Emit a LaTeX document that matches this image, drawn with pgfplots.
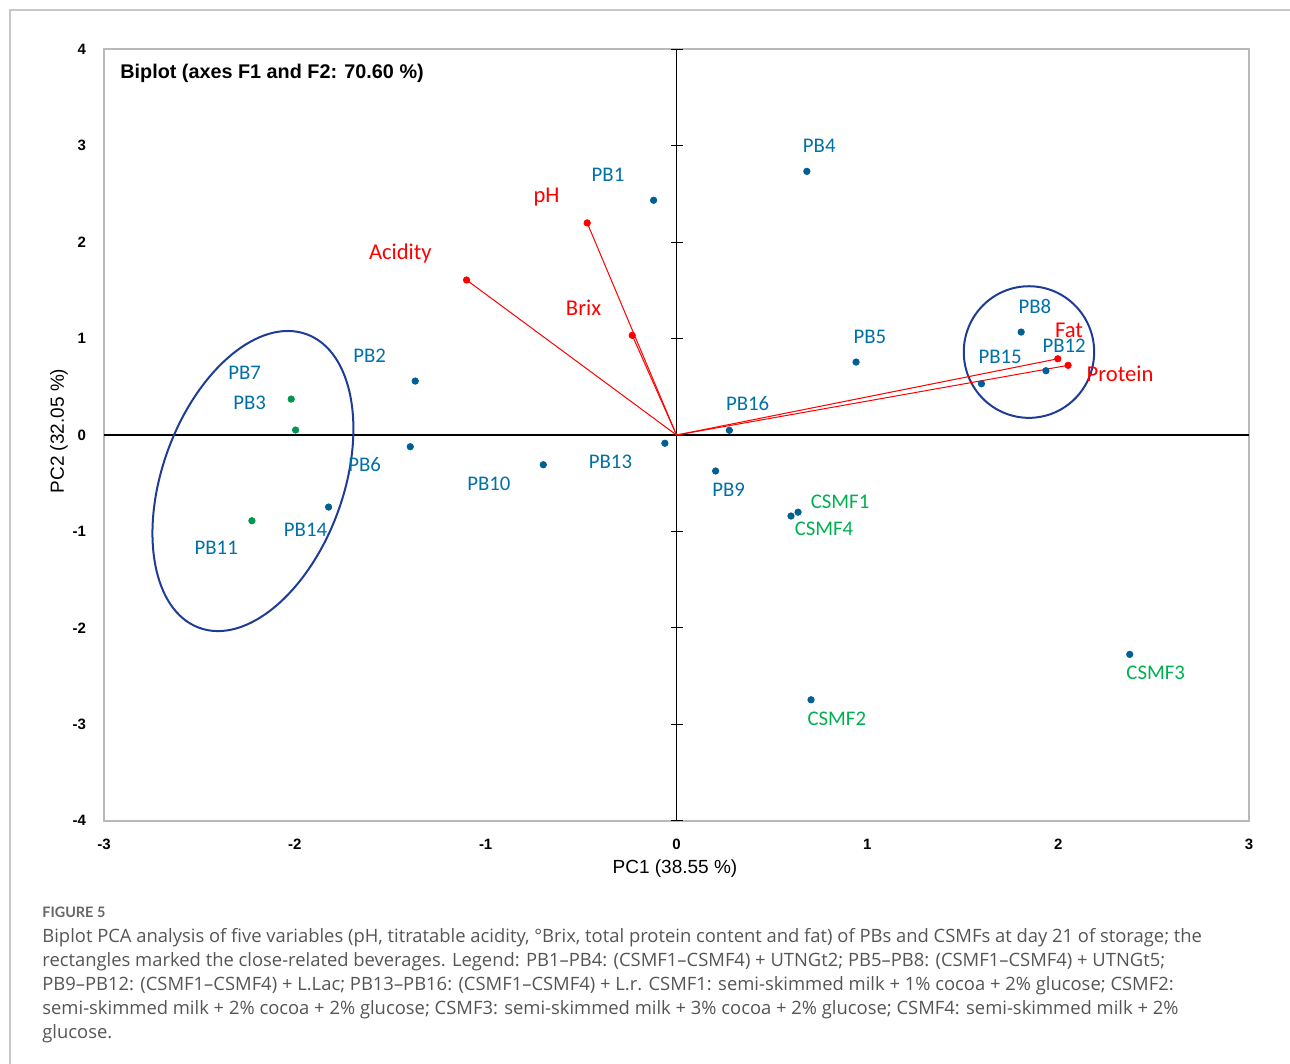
\documentclass[border=0pt]{standalone}
\usepackage{pgfplots}
\pgfplotsset{compat=1.18}
\usepackage{pgfplotstable}
\usepackage{fontspec}
\setmainfont{Liberation Sans}
\newfontfamily\carlito{Carlito}
\newfontfamily\lato{Lato}
\newfontfamily\opensans{Open Sans}
\definecolor{lblblue}{RGB}{0,112,168}
\definecolor{dotblue}{RGB}{0,96,150}
\definecolor{lblgreen}{RGB}{0,176,80}
\definecolor{dotgreen}{RGB}{0,150,80}
\definecolor{ellcol}{RGB}{30,60,150}
\definecolor{framegray}{RGB}{185,185,185}
\definecolor{capgray}{RGB}{85,85,85}

\pgfplotstableread{
x y
-0.120 2.435
-1.369 0.560
0.683 2.735
0.941 0.757
-1.395 -0.121
1.806 1.068
0.205 -0.373
-0.698 -0.308
1.936 0.667
-0.061 -0.085
-1.823 -0.747
1.598 0.532
0.277 0.049
0.637 -0.800
0.705 -2.746
2.375 -2.275
0.600 -0.840
}\blueobs

\pgfplotstableread{
x y
-2.019 0.373
-1.996 0.052
-2.225 -0.889
}\greenobs

\pgfplotstableread{
x y
-0.468 2.200
-1.100 1.608
-0.232 1.034
1.998 0.791
2.052 0.723
}\vars

\pgfplotstableread{
x y lab
-0.359 2.697 PB1
-1.608 0.820 PB2
-2.263 0.646 PB7
-2.237 0.335 PB3
0.748 2.998 PB4
1.013 1.020 PB5
1.878 1.331 PB8
2.031 0.926 PB12
1.696 0.806 PB15
0.373 0.329 PB16
0.273 -0.563 PB9
-1.634 -0.311 PB6
-0.983 -0.501 PB10
-0.346 -0.277 PB13
-1.944 -0.985 PB14
-2.412 -1.169 PB11
}\bluelabels

\pgfplotstableread{
x y lab
0.857 -0.692 CSMF1
0.773 -0.975 CSMF4
2.511 -2.462 CSMF3
0.840 -2.939 CSMF2
}\greenlabels

\pgfplotstableread{
x y lab
-0.681 2.472 pH
-1.447 1.888 Acidity
-0.487 1.317 Brix
2.057 1.089 Fat
2.324 0.640 Protein
}\redlabels

\begin{document}
\begin{tikzpicture}
\useasboundingbox (0,0) rectangle (645pt,532pt);
\draw[color=black!22, line width=0.6pt] (5pt,0pt) -- (5pt,527pt) -- (645pt,527pt);
\begin{axis}[
  at={(52pt,121.65pt)}, anchor=south west,
  scale only axis, width=572.5pt, height=385.65pt,
  xmin=-3, xmax=3, ymin=-4, ymax=4,
  xtick={-3,-2,-1,0,1,2,3}, ytick={-4,-3,-2,-1,0,1,2,3,4},
  major tick length=0pt,
  axis line style={draw=framegray, line width=1pt},
  tick label style={font=\bfseries\fontsize{7.5}{9}\selectfont},
  /pgf/number format/assume math mode=true,
  xticklabel style={yshift=-5.5pt},
  yticklabel style={xshift=-5.5pt},
  clip=false,
]
% zero lines
\addplot[black, line width=0.7pt] coordinates {(-3,0) (3,0)};
\addplot[black, line width=0.7pt] coordinates {(0,-4) (0,4)};
% ticks on vertical zero line
\addplot[only marks, black, mark=-, mark size=3pt, mark options={line width=0.6pt}] coordinates {(0,-4) (0,-3) (0,-2) (0,-1) (0,1) (0,2) (0,3) (0,4)};
% ellipses
\draw[ellcol, line width=1pt, rotate around={69.9:(axis cs:-2.2196,-0.477)}] (axis cs:-2.2196,-0.477) ellipse [x radius=78.15pt, y radius=45.2pt];
\draw[ellcol, line width=1pt] (axis cs:1.847,0.861) ellipse [x radius=32.6pt, y radius=32.9pt];
% variable vectors
\addplot[red, line width=0.5pt] coordinates {(0,0) (-0.468,2.200)};
\addplot[red, line width=0.5pt] coordinates {(0,0) (-1.100,1.608)};
\addplot[red, line width=0.5pt] coordinates {(0,0) (-0.232,1.034)};
\addplot[red, line width=0.5pt] coordinates {(0,0) (1.998,0.791)};
\addplot[red, line width=0.5pt] coordinates {(0,0) (2.052,0.723)};
\addplot[only marks, mark=*, red, mark size=1.6pt] table {\vars};
% observations
\addplot[only marks, mark=*, dotblue, mark size=1.6pt] table {\blueobs};
\addplot[only marks, mark=*, dotgreen, mark size=1.6pt] table {\greenobs};
% labels
\addplot[draw=none, mark=none, nodes near coords, point meta=explicit symbolic,
  nodes near coords style={anchor=center, inner sep=0pt, text=lblblue, font=\carlito\fontsize{10.4}{12}\selectfont}]
  table[meta=lab] {\bluelabels};
\addplot[draw=none, mark=none, nodes near coords, point meta=explicit symbolic,
  nodes near coords style={anchor=center, inner sep=0pt, text=lblgreen, font=\carlito\fontsize{10.4}{12}\selectfont}]
  table[meta=lab] {\greenlabels};
\addplot[draw=none, mark=none, nodes near coords, point meta=explicit symbolic,
  nodes near coords style={anchor=center, inner sep=0pt, text=red, font=\carlito\fontsize{11.3}{13}\selectfont}]
  table[meta=lab] {\redlabels};
\end{axis}
% title and axis labels
\node[anchor=west, inner sep=0pt, font=\bfseries\fontsize{9.9}{12}\selectfont] at (60pt,495.5pt) {Biplot (axes F1 and F2: 70.60 \%)};
\node[inner sep=0pt, font=\fontsize{9.5}{11}\selectfont] at (337.5pt,97.5pt) {PC1 (38.55 \%)};
\node[inner sep=0pt, rotate=90, font=\fontsize{9.5}{11}\selectfont] at (29.5pt,316.5pt) {PC2 (32.05 \%)};
% caption
\node[anchor=base west, inner sep=0pt, text=black!60, font=\lato\bfseries\fontsize{7.2}{9}\selectfont] at (21pt,73pt) {FIGURE 5};
\node[anchor=base west, inner sep=0pt, text=capgray, font=\opensans\fontsize{9.2}{12}\selectfont] at (21pt,60.5pt) {\parbox[t]{624pt}{\raggedright
Biplot PCA analysis of five variables (pH, titratable acidity, °Brix, total protein content and fat) of PBs and CSMFs at day 21 of storage; the\\
rectangles marked the close-related beverages. Legend: PB1–PB4: (CSMF1–CSMF4) + UTNGt2; PB5–PB8: (CSMF1–CSMF4) + UTNGt5;\\
PB9–PB12: (CSMF1–CSMF4) + L.Lac; PB13–PB16: (CSMF1–CSMF4) + L.r. CSMF1: semi-skimmed milk + 1\% cocoa + 2\% glucose; CSMF2:\\
semi-skimmed milk + 2\% cocoa + 2\% glucose; CSMF3: semi-skimmed milk + 3\% cocoa + 2\% glucose; CSMF4: semi-skimmed milk + 2\%\\
glucose.}};
\end{tikzpicture}
\end{document}
